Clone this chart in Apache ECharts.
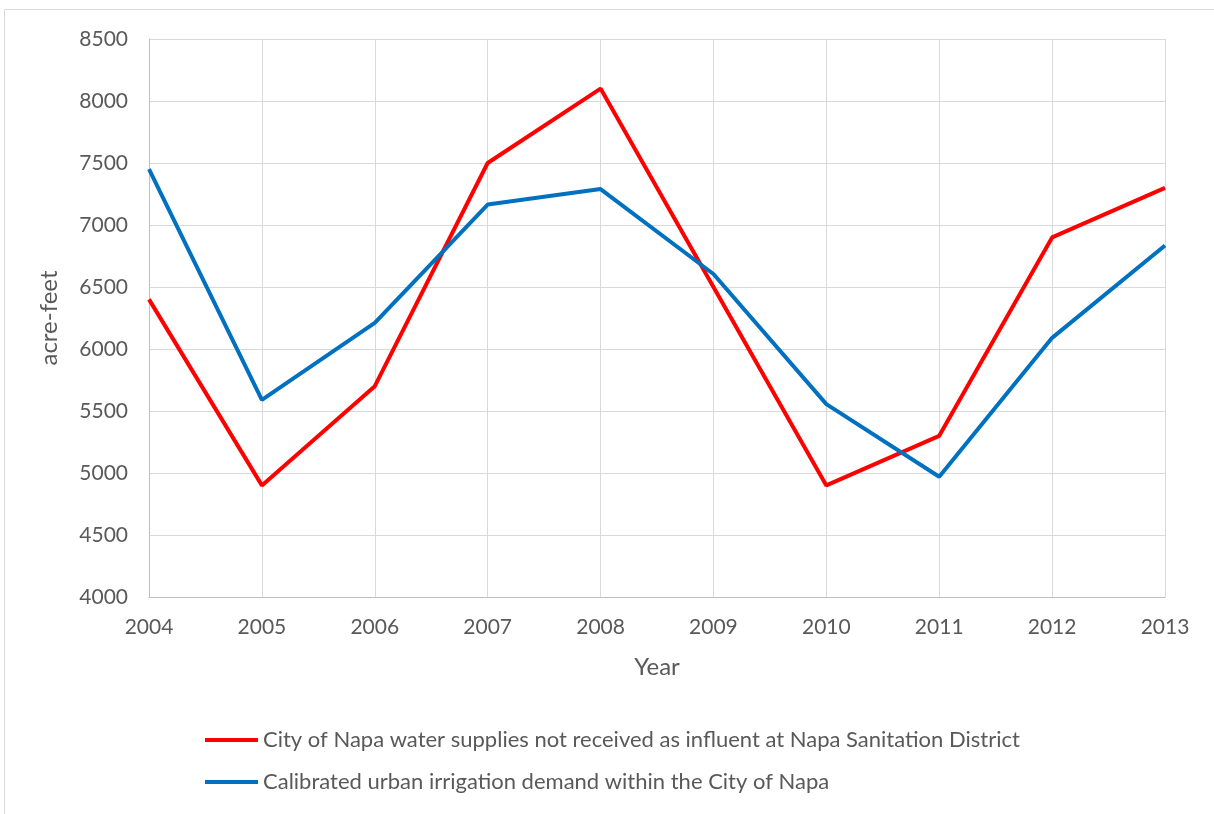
<!DOCTYPE html>
<html lang="en">
<head>
	<meta charset="UTF-8">
	<title>Napa water</title>
	<style>
		html, body { margin: 0; padding: 0; background: #fff; }
		#container { width: 1214px; height: 814px; }
	</style>
</head>
<body>
	<div id="container"></div>
	<script src="https://cdn.jsdelivr.net/npm/echarts@6/dist/echarts.min.js"></script>
	<script>
		var years = ['2004', '2005', '2006', '2007', '2008', '2009', '2010', '2011', '2012', '2013'];
		var notReceived = [6400, 4900, 5700, 7500, 8100, 6500, 4900, 5300, 6900, 7300];
		var irrigation = [7450, 5590, 6210, 7165, 7290, 6605, 5555, 4970, 6090, 6835];
		var seriesNames = [
			'City of Napa water supplies not received as influent at Napa Sanitation District',
			'Calibrated urban irrigation demand within the City of Napa'
		];

		var font = 'Lato';
		var txt = '#595959';

		var myChart = echarts.init(document.getElementById('container'));

		var option = {
			animation: false,
			textStyle: { fontFamily: font },
			graphic: [{
				type: 'rect',
				shape: { x: 4.5, y: 9.5, width: 1220, height: 820 },
				style: { fill: 'none', stroke: '#d9d9d9', lineWidth: 1 }
			}],
			grid: {
				left: 149,
				right: 49,
				top: 39,
				bottom: 217
			},
			legend: {
				orient: 'vertical',
				left: 200,
				top: 724,
				icon: 'rect',
				itemWidth: 53,
				itemHeight: 4,
				itemGap: 20,
				textStyle: { color: txt, fontSize: 22, fontFamily: font },
				data: seriesNames
			},
			xAxis: {
				type: 'category',
				boundaryGap: false,
				data: years,
				name: 'Year',
				nameLocation: 'middle',
				nameGap: 58,
				nameTextStyle: { color: txt, fontSize: 24, fontFamily: font },
				axisLine: { lineStyle: { color: '#bfbfbf', width: 1 } },
				axisTick: { show: false },
				axisLabel: { color: txt, fontSize: 21, margin: 20, fontFamily: font },
				splitLine: { show: true, lineStyle: { color: '#d9d9d9', width: 1 } }
			},
			yAxis: {
				type: 'value',
				min: 4000,
				max: 8500,
				interval: 500,
				name: 'acre-feet',
				nameLocation: 'middle',
				nameGap: 88,
				nameTextStyle: { color: txt, fontSize: 24, fontFamily: font },
				axisLine: { show: true, lineStyle: { color: '#bfbfbf', width: 1 } },
				axisTick: { show: false },
				axisLabel: {
					color: txt, fontSize: 21, margin: 21, fontFamily: font,
					formatter: function (v) { return String(v); }
				},
				splitLine: { lineStyle: { color: '#d9d9d9', width: 1 } }
			},
			series: [{
				name: seriesNames[0],
				type: 'line',
				symbol: 'none',
				data: notReceived,
				itemStyle: { color: '#ff0000' },
				lineStyle: { color: '#ff0000', width: 4 }
			}, {
				name: seriesNames[1],
				type: 'line',
				symbol: 'none',
				data: irrigation,
				itemStyle: { color: '#0070c0' },
				lineStyle: { color: '#0070c0', width: 4 }
			}]
		};

		myChart.setOption(option);
	</script>
</body>
</html>
